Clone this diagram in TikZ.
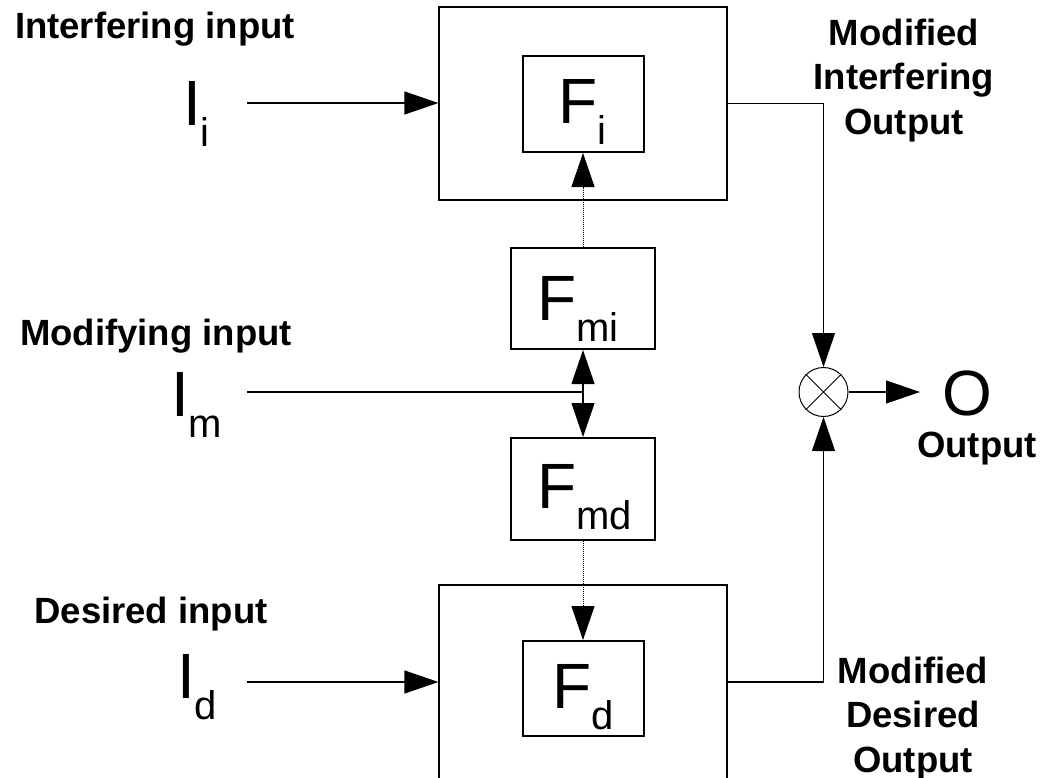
\documentclass[tikz,border=0pt]{standalone}
\usepackage{fontspec}
\setmainfont{Liberation Sans}
\usetikzlibrary{arrows.meta}
\newcommand{\lowsub}[1]{\raisebox{-21pt}{\fontsize{40}{40}\selectfont #1}}
\begin{document}
\begin{tikzpicture}[x=1pt,y=-1pt,
  outerbox/.style={draw, line width=1.2pt, minimum width=288pt, minimum height=193pt, inner sep=0pt},
  innerbox/.style={draw, line width=2pt, inner sep=0pt},
  conn/.style={line width=1.2pt},
  arr/.style={conn, -{Triangle[length=34pt,width=23pt]}},
  dotarr/.style={line width=1pt, dash pattern=on 1pt off 1pt, -{Triangle[length=34pt,width=23pt]}},
  lbl/.style={font=\fontsize{36.5}{44.5}\selectfont\bfseries, inner sep=0pt, anchor=base, align=center},
  sym/.style={font=\fontsize{64}{64}\selectfont, inner sep=0pt, anchor=base west},
]
\useasboundingbox (0,0) rectangle (1042,777);
\clip (0,0) rectangle (1042,777);

% boxes
\node[outerbox] (Ti) at (583,103.5) {};
\node[innerbox, minimum width=121pt, minimum height=96pt] (Fi) at (583.5,104) {};
\node[innerbox, minimum width=144pt, minimum height=101pt] (Fmi) at (583,298.5) {};
\node[innerbox, minimum width=144pt, minimum height=102pt] (Fmd) at (583,489) {};
\node[outerbox, minimum height=194pt] (Td) at (583,682) {};
\node[innerbox, minimum width=121pt, minimum height=95pt] (Fd) at (583.5,688.5) {};
\node[draw, circle, minimum size=49pt, inner sep=0pt, line width=1pt] (mix) at (823.5,392) {};
\draw[line width=1pt] (mix.north west) -- (mix.south east);
\draw[line width=1pt] (mix.north east) -- (mix.south west);

% symbols
\node[sym] (tFi) at (558,123) {F\lowsub{i}};
\node[sym] (tFmi) at (537,320) {F\lowsub{mi}};
\node[sym] (tFmd) at (537,508) {F\lowsub{md}};
\node[sym] (tFd) at (552,708) {F\lowsub{d}};
\node[sym] (tIi) at (183,125) {I\lowsub{i}};
\node[sym] (tIm) at (171,416) {I\lowsub{m}};
\node[sym] (tId) at (177,698) {I\lowsub{d}};
\node[sym, anchor=base] (tO) at (967.5,415) {O};

% labels
\node[lbl] (lIi) at (155,38) {Interfering input};
\node[lbl] (lIm) at (156,345) {Modifying input};
\node[lbl] (lId) at (151,623) {Desired input};
\node[lbl] (lMIO) at (904,134) {Modified\\Interfering\\Output};
\node[lbl] (lMDO) at (913,772) {Modified\\Desired\\Output};
\node[lbl] (lO) at (977,457) {Output};

% connectors
\coordinate (si) at (247,103);
\coordinate (sm) at (247,392);
\coordinate (sd) at (247,682);
\coordinate (jm) at (583,392);
\coordinate (eo) at (920,392);
\draw[arr] (si) -- (si -| Ti.west);
\draw[arr] (sd) -- (sd -| Td.west);
\draw[conn] (sm) -- (jm);
\draw[arr] (jm) -- (Fmi.south);
\draw[arr] (jm) -- (Fmd.north);
\draw[dotarr] (Fmi.north) -- (Fmi.north |- Fi.south);
\draw[dotarr] (Fmd.south) -- (Fmd.south |- Fd.north);
\draw[arr] (Ti.east) -| (mix.north);
\draw[arr] (Ti.east |- sd) -| (mix.south);
\draw[arr] (mix.east) -- (eo);
\end{tikzpicture}
\end{document}
